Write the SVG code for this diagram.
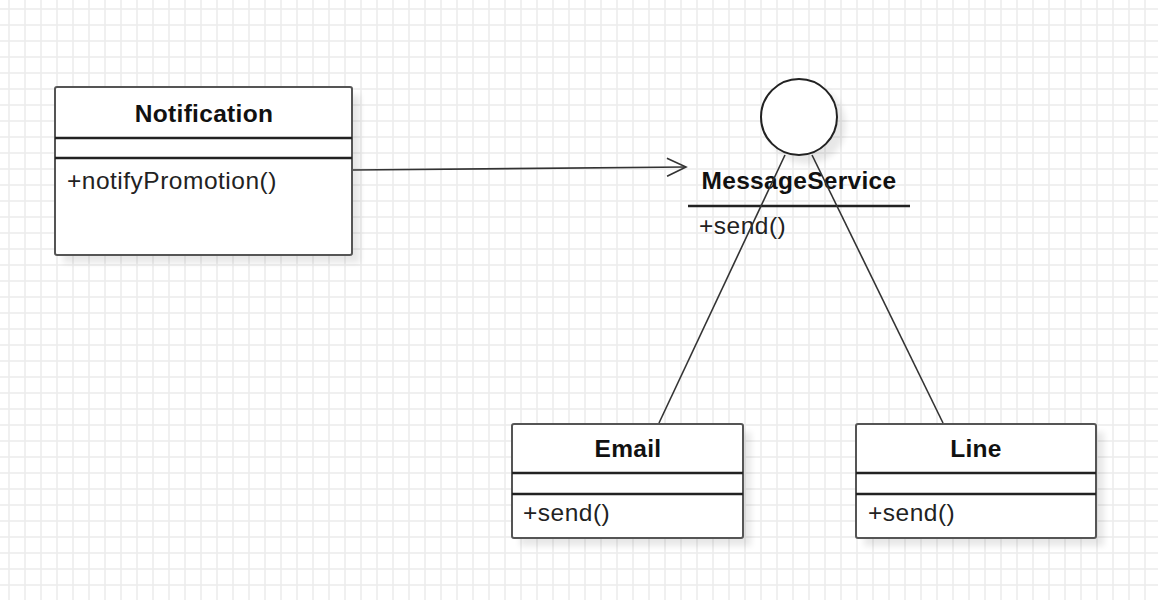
<svg xmlns="http://www.w3.org/2000/svg" width="1158" height="600" viewBox="0 0 1158 600">
<defs>
<pattern id="grid" x="0" y="0" width="16" height="16" patternUnits="userSpaceOnUse">
<path d="M9 0V16M0 9H16" stroke="#ececec" stroke-width="1.5" fill="none"/>
</pattern>
<filter id="sh" x="-20%" y="-20%" width="140%" height="140%">
<feGaussianBlur stdDeviation="3"/>
</filter>
<marker id="open" markerWidth="24" markerHeight="24" refX="20" refY="10" orient="auto" markerUnits="userSpaceOnUse">
<path d="M1 1L20 10L1 19" fill="none" stroke="#333" stroke-width="1.6"/>
</marker>
</defs>
<style>
.box{fill:#fff;stroke:#555;stroke-width:2}
.sep{stroke:#222;stroke-width:2.5}
.shadow{fill:#000;opacity:0.09}
.title{font-family:"Liberation Sans",Arial,sans-serif;font-weight:bold;font-size:24.5px;letter-spacing:0.3px;fill:#111}
.op{font-family:"Liberation Sans",Arial,sans-serif;font-size:24.5px;letter-spacing:0.5px;fill:#222}
.conn{stroke:#333;stroke-width:1.6;fill:none}
</style>
<rect width="1158" height="600" fill="#fff"/>
<rect width="1158" height="600" fill="url(#grid)"/>

<g id="Notification">
<rect class="shadow" x="63" y="95" width="297" height="168" filter="url(#sh)"/>
<rect class="box" x="55" y="87" width="297" height="168" rx="2"/>
<line class="sep" x1="55" y1="138" x2="352" y2="138"/>
<line class="sep" x1="55" y1="158" x2="352" y2="158"/>
<text class="title" x="204" y="122" text-anchor="middle">Notification</text>
<text class="op" x="67" y="189">+notifyPromotion()</text>
</g>

<g id="MessageService">
<circle class="shadow" cx="807" cy="125" r="39" filter="url(#sh)"/>
<circle cx="799" cy="117" r="38" fill="#fff" stroke="#222" stroke-width="2"/>
<text class="title" x="799" y="189" text-anchor="middle">MessageService</text>
<line class="sep" x1="688" y1="206" x2="910" y2="206"/>
<text class="op" x="699" y="234">+send()</text>
</g>

<g id="Email">
<rect class="shadow" x="520" y="432" width="231" height="114" filter="url(#sh)"/>
<rect class="box" x="512" y="424" width="231" height="114" rx="2"/>
<line class="sep" x1="512" y1="473" x2="743" y2="473"/>
<line class="sep" x1="512" y1="494" x2="743" y2="494"/>
<text class="title" x="628" y="457" text-anchor="middle">Email</text>
<text class="op" x="523" y="521">+send()</text>
</g>

<g id="Line">
<rect class="shadow" x="864" y="432" width="240" height="114" filter="url(#sh)"/>
<rect class="box" x="856" y="424" width="240" height="114" rx="2"/>
<line class="sep" x1="856" y1="473" x2="1096" y2="473"/>
<line class="sep" x1="856" y1="494" x2="1096" y2="494"/>
<text class="title" x="976" y="457" text-anchor="middle">Line</text>
<text class="op" x="868" y="521">+send()</text>
</g>

<g id="connectors">
<line class="conn" x1="353" y1="170" x2="686" y2="167" marker-end="url(#open)"/>
<line class="conn" x1="785" y1="155" x2="659" y2="423"/>
<line class="conn" x1="812" y1="155" x2="943" y2="423"/>
</g>
</svg>
